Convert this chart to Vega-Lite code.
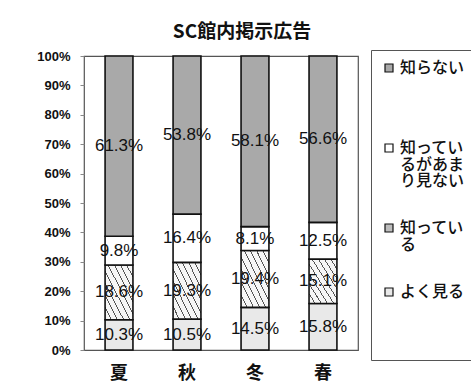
{
  "$schema": "https://vega.github.io/schema/vega-lite/v6.json",
  "width": 274,
  "height": 294,
  "autosize": {"type": "none"},
  "padding": {"left": 84, "top": 56, "right": 113, "bottom": 35},
  "background": "white",
  "title": {
    "text": "SC館内掲示広告",
    "font": "Noto Sans CJK JP",
    "fontSize": 19,
    "fontWeight": "bold",
    "color": "#111",
    "anchor": "middle",
    "frame": "group",
    "dx": 21,
    "offset": 8
  },
  "config": {
    "view": {"stroke": "#555", "strokeWidth": 1.2},
    "axisY": {
      "title": null,
      "values": [0, 0.1, 0.2, 0.3, 0.4, 0.5, 0.6, 0.7, 0.8, 0.9, 1],
      "format": "%",
      "labelOverlap": false,
      "grid": false,
      "domain": false,
      "tickSize": 4,
      "tickColor": "#888",
      "labelFont": "Liberation Sans",
      "labelFontSize": 13,
      "labelFontWeight": "bold",
      "labelColor": "#111",
      "labelPadding": 10
    }
  },
  "data": {
    "values": [
      {"season": "夏", "status": "よく見る", "share": 0.103},
      {"season": "夏", "status": "知っている", "share": 0.186},
      {"season": "夏", "status": "知っているがあまり見ない", "share": 0.098},
      {"season": "夏", "status": "知らない", "share": 0.613},
      {"season": "秋", "status": "よく見る", "share": 0.105},
      {"season": "秋", "status": "知っている", "share": 0.193},
      {"season": "秋", "status": "知っているがあまり見ない", "share": 0.164},
      {"season": "秋", "status": "知らない", "share": 0.538},
      {"season": "冬", "status": "よく見る", "share": 0.145},
      {"season": "冬", "status": "知っている", "share": 0.194},
      {"season": "冬", "status": "知っているがあまり見ない", "share": 0.081},
      {"season": "冬", "status": "知らない", "share": 0.581},
      {"season": "春", "status": "よく見る", "share": 0.158},
      {"season": "春", "status": "知っている", "share": 0.151},
      {"season": "春", "status": "知っているがあまり見ない", "share": 0.125},
      {"season": "春", "status": "知らない", "share": 0.566}
    ]
  },
  "encoding": {
    "x": {
      "field": "season",
      "type": "nominal",
      "sort": ["夏", "秋", "冬", "春"],
      "scale": {"paddingInner": 0.59, "paddingOuter": 0.31},
      "axis": {
        "title": null,
        "domain": false,
        "ticks": false,
        "labelAngle": 0,
        "labelFont": "Noto Sans CJK JP",
        "labelFontSize": 18,
        "labelFontWeight": "bold",
        "labelColor": "#111",
        "labelPadding": 14
      }
    }
  },
  "layer": [
    {
      "mark": {"type": "bar", "stroke": "#111", "strokeWidth": 1.6},
      "encoding": {
        "y": {
          "field": "share",
          "type": "quantitative",
          "stack": "normalize",
          "scale": {"domain": [0, 1], "nice": false},
          "axis": {"title": null, "format": "%"}
        },
        "fill": {
          "condition": {
            "test": "datum.status === '知っている'",
            "value": {
              "gradient": "linear",
              "x1": 0, "y1": 1, "x2": 1, "y2": 0,
              "stops": [
                {"offset": 0, "color": "#f6f6f6"},
                {"offset": 0.102, "color": "#f6f6f6"},
                {"offset": 0.102, "color": "#555"},
                {"offset": 0.120, "color": "#555"},
                {"offset": 0.120, "color": "#f6f6f6"},
                {"offset": 0.213, "color": "#f6f6f6"},
                {"offset": 0.213, "color": "#555"},
                {"offset": 0.231, "color": "#555"},
                {"offset": 0.231, "color": "#f6f6f6"},
                {"offset": 0.324, "color": "#f6f6f6"},
                {"offset": 0.324, "color": "#555"},
                {"offset": 0.342, "color": "#555"},
                {"offset": 0.342, "color": "#f6f6f6"},
                {"offset": 0.435, "color": "#f6f6f6"},
                {"offset": 0.435, "color": "#555"},
                {"offset": 0.453, "color": "#555"},
                {"offset": 0.453, "color": "#f6f6f6"},
                {"offset": 0.546, "color": "#f6f6f6"},
                {"offset": 0.546, "color": "#555"},
                {"offset": 0.564, "color": "#555"},
                {"offset": 0.564, "color": "#f6f6f6"},
                {"offset": 0.657, "color": "#f6f6f6"},
                {"offset": 0.657, "color": "#555"},
                {"offset": 0.675, "color": "#555"},
                {"offset": 0.675, "color": "#f6f6f6"},
                {"offset": 0.768, "color": "#f6f6f6"},
                {"offset": 0.768, "color": "#555"},
                {"offset": 0.786, "color": "#555"},
                {"offset": 0.786, "color": "#f6f6f6"},
                {"offset": 0.879, "color": "#f6f6f6"},
                {"offset": 0.879, "color": "#555"},
                {"offset": 0.897, "color": "#555"},
                {"offset": 0.897, "color": "#f6f6f6"},
                {"offset": 1, "color": "#f6f6f6"}
              ]
            }
          },
          "field": "status",
          "type": "nominal",
          "scale": {
            "domain": ["知らない", "知っているがあまり見ない", "知っている", "よく見る"],
            "range": ["#a9a9a9", "#ffffff", "#bdbdbd", "#e9e9e9"]
          },
          "legend": {
            "title": null,
            "orient": "none",
            "legendX": 287,
            "legendY": -6,
            "direction": "vertical",
            "symbolType": "square",
            "symbolSize": 64,
            "symbolStrokeColor": "#111",
            "symbolStrokeWidth": 1.2,
            "labelFont": "Noto Sans CJK JP",
            "labelFontSize": 16,
            "labelFontWeight": 500,
            "labelColor": "#111",
            "labelOffset": 3,
            "labelLimit": 200,
            "labelExpr": "datum.label === '知っているがあまり見ない' ? ['知ってい', 'るがあま', 'り見ない'] : datum.label === '知っている' ? ['知ってい', 'る'] : datum.label === '知らない' ? ['知らない', ' ', ' '] : ['よく見る', ' ', ' ', ' ']",
            "encode": {
              "labels": {"update": {"lineHeight": {"value": 16.5}}}
            },
            "rowPadding": 31,
            "padding": 10,
            "strokeColor": "#555",
            "fillColor": "white"
          }
        },
        "order": {"field": "status", "sort": "ascending"}
      }
    },
    {
      "mark": {
        "type": "text",
        "font": "Liberation Sans",
        "fontSize": 17,
        "color": "#111",
        "baseline": "middle",
        "align": "center"
      },
      "encoding": {
        "y": {"field": "share", "type": "quantitative", "stack": "normalize", "bandPosition": 0.5, "axis": {"title": null, "format": "%"}},
        "detail": {"field": "status"},
        "text": {"field": "share", "type": "quantitative", "format": ".1%"},
        "order": {"field": "status", "sort": "ascending"}
      }
    }
  ]
}
